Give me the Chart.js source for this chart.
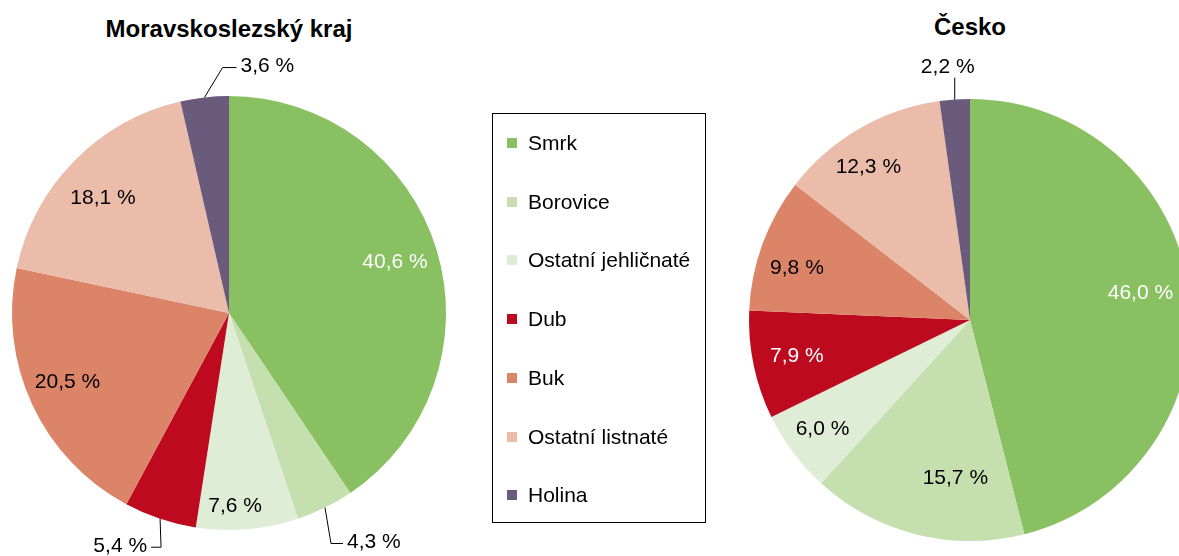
<!DOCTYPE html>
<html>
<head>
<meta charset="utf-8">
<script src="https://cdn.jsdelivr.net/npm/chart.js@4/dist/chart.umd.min.js"></script>
<style>
  html, body { margin:0; padding:0; background:#fff; }
  body { width:1179px; height:556px; overflow:hidden; position:relative; font-family:"Liberation Sans", Arial, sans-serif; }
  .title { position:absolute; font-weight:bold; font-size:24px; line-height:28px; color:#000; text-align:center; white-space:nowrap; transform:translateX(-50%); }
  canvas { position:absolute; }
  #legend { position:absolute; left:492px; top:113px; width:214px; height:410px; border:1px solid #000; box-sizing:border-box; }
  .item { position:absolute; left:14px; font-size:21px; color:#000; white-space:nowrap; line-height:24px; }
  .sw { display:inline-block; width:10px; height:10px; margin-right:11px; vertical-align:2px; }
</style>
</head>
<body>
<div class="title" id="t1" style="left:229px; top:15px;"></div>
<div class="title" id="t2" style="left:970px; top:13px;"></div>
<canvas id="c1" width="470" height="556" style="left:0; top:0;"></canvas>
<canvas id="c2" width="600" height="556" style="left:700px; top:0;"></canvas>
<div id="legend"></div>
<script>
const categories = ["Smrk", "Borovice", "Ostatní jehličnaté", "Dub", "Buk", "Ostatní listnaté", "Holina"];
const titles = ["Moravskoslezský kraj", "Česko"];
const valuesMSK = [40.6, 4.3, 7.6, 5.4, 20.5, 18.1, 3.6];
const valuesCZ = [46.0, 15.7, 6.0, 7.9, 9.8, 12.3, 2.2];
const colors = ["#88C062", "#C5DFAE", "#DFEDD6", "#BE0A1F", "#DB8468", "#EBBCA9", "#6A5A7C"];

document.getElementById('t1').textContent = titles[0];
document.getElementById('t2').textContent = titles[1];

// legend
const leg = document.getElementById('legend');
categories.forEach((c, i) => {
  const d = document.createElement('div');
  d.className = 'item';
  d.style.top = (17 + i * 58.7) + 'px';
  d.innerHTML = '<span class="sw" style="background:' + colors[i] + '"></span>' + c;
  leg.appendChild(d);
});

function fmt(v) { return v.toFixed(1).replace('.', ',') + ' %'; }

const labelPlugin = {
  id: 'sliceLabels',
  afterDatasetsDraw(chart, args, opts) {
    const ctx = chart.ctx;
    const meta = chart.getDatasetMeta(0);
    const data = chart.data.datasets[0].data;
    ctx.save();
    ctx.font = '21px "Liberation Sans", Arial, sans-serif';
    meta.data.forEach((arc, i) => {
      const p = arc.getProps(['x', 'y', 'startAngle', 'endAngle', 'outerRadius'], true);
      const mid = (p.startAngle + p.endAngle) / 2;
      const txt = fmt(data[i]);
      const out = opts.outside[i];
      if (out) {
        const ex = p.x + Math.cos(mid) * p.outerRadius;
        const ey = p.y + Math.sin(mid) * p.outerRadius;
        const bx = ex + out.bend;
        const by = p.y + Math.sin(mid) * (p.outerRadius + out.ext);
        ctx.strokeStyle = '#000';
        ctx.lineWidth = 1;
        ctx.beginPath();
        ctx.moveTo(ex, ey);
        ctx.lineTo(bx, by);
        const hx = bx + out.dir * out.len;
        ctx.lineTo(hx, by);
        ctx.stroke();
        ctx.fillStyle = '#000';
        ctx.textBaseline = 'middle';
        if (out.dir > 0) { ctx.textAlign = 'left'; ctx.fillText(txt, hx + 4, by - 1); }
        else if (out.dir < 0) { ctx.textAlign = 'right'; ctx.fillText(txt, hx - 4, by - 1); }
        else { ctx.textAlign = 'center'; ctx.fillText(txt, bx - 7, by - 10); }
      } else {
        const f = (opts.factor && opts.factor[i]) || 0.8;
        const s = (opts.shift && opts.shift[i]) || [0, 0];
        const lx = p.x + Math.cos(mid) * p.outerRadius * f + s[0];
        const ly = p.y + Math.sin(mid) * p.outerRadius * f + s[1];
        ctx.fillStyle = opts.white.includes(i) ? '#fff' : '#000';
        ctx.textAlign = 'center';
        ctx.textBaseline = 'middle';
        ctx.fillText(txt, lx, ly);
      }
    });
    ctx.restore();
  }
};

function makePie(id, values, padding, pluginOpts) {
  return new Chart(document.getElementById(id), {
    type: 'pie',
    data: { labels: categories, datasets: [{ data: values, backgroundColor: colors, borderWidth: 0 }] },
    options: {
      responsive: false,
      animation: false,
      layout: { padding: padding },
      plugins: { legend: { display: false }, tooltip: { enabled: false }, sliceLabels: pluginOpts }
    },
    plugins: [labelPlugin]
  });
}

makePie('c1', valuesMSK, { left: 12, right: 24, top: 96, bottom: 26 }, {
  white: [0],
  factor: { 2: 0.88, 5: 0.84 },
  shift: { 2: [-10, 3], 5: [4, 13], 4: [-4, -4] },
  outside: {
    1: { ext: 40, bend: 6, dir: 1, len: 12 },
    3: { ext: 30, bend: 1, dir: -1, len: 10 },
    6: { ext: 30, bend: 18, dir: 1, len: 14 }
  }
});

makePie('c2', valuesCZ, { left: 49, right: 109, top: 99, bottom: 15 }, {
  white: [0, 3],
  factor: { 1: 0.72 },
  shift: { 0: [-5, -5], 1: [24, 4], 2: [-6, 3], 4: [-7, 9], 5: [-13, 0] },
  outside: {
    6: { ext: 22, bend: 0, dir: 0, len: 0 }
  }
});
</script>
</body>
</html>
